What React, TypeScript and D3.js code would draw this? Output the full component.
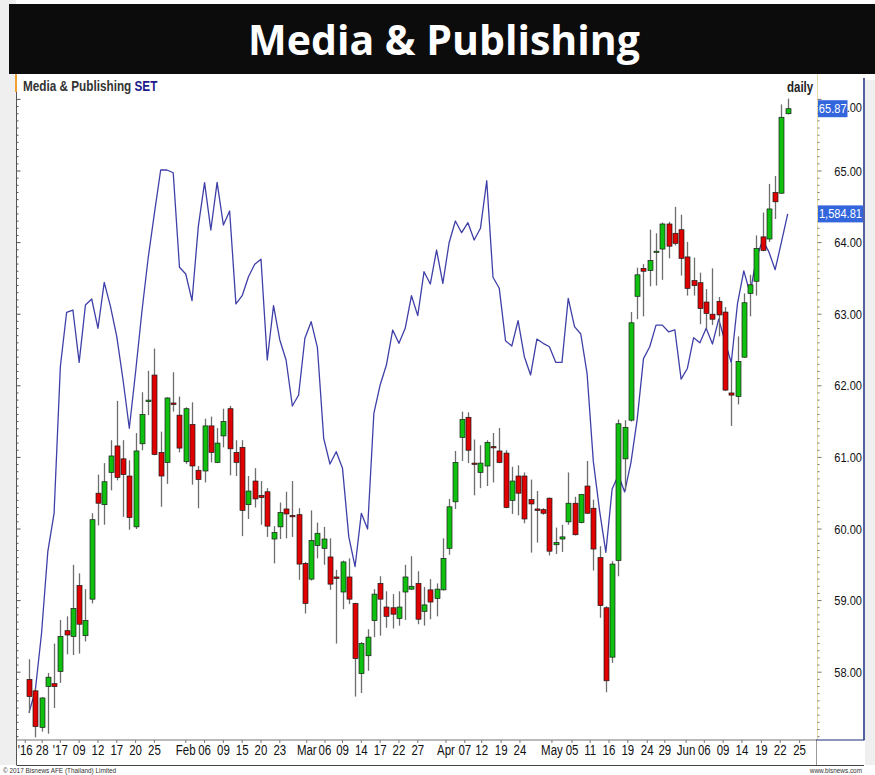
import React from 'react';
import * as d3 from 'd3';

const open = [57.90,57.74,57.23,57.80,57.84,58.01,58.58,58.50,59.21,58.51,
59.02,60.50,60.34,60.79,61.16,60.98,60.74,60.03,61.19,61.78,
62.15,61.07,60.93,61.76,61.59,60.94,61.46,60.82,60.81,61.44,
60.93,61.30,61.68,61.07,61.14,60.34,60.67,60.47,60.52,59.86,
60.03,60.28,60.19,60.20,59.52,59.30,59.77,59.73,59.61,59.33,
59.12,59.33,58.96,57.98,58.23,58.72,59.24,58.91,58.90,58.75,
59.12,59.16,59.24,58.85,59.15,59.03,59.15,59.73,60.38,61.28,
61.56,60.92,60.79,60.88,61.15,61.09,61.06,60.40,60.74,60.74,
60.41,60.28,60.27,60.43,59.78,59.86,60.10,60.36,60.09,60.60,
60.29,59.60,58.90,58.21,59.56,60.98,61.52,63.25,63.64,63.61,
63.87,63.91,64.26,64.13,64.18,63.80,63.47,63.44,63.17,63.00,
63.18,63.03,61.90,61.85,62.40,63.29,63.46,64.08,64.05,64.70,
64.69,65.80];

const high = [58.18,57.78,57.65,57.99,58.40,58.73,58.78,59.50,59.38,59.16,
60.22,60.76,60.92,61.24,61.79,61.24,60.96,61.34,61.91,62.21,
62.52,61.36,61.84,62.19,61.85,61.70,61.77,60.88,61.54,61.57,
61.41,61.68,61.72,61.24,61.24,60.74,60.85,60.67,60.57,60.04,
60.37,60.52,60.67,60.29,59.54,60.26,60.09,60.03,59.87,59.43,
59.56,59.59,58.97,58.42,58.60,59.16,59.34,59.13,59.09,59.13,
59.50,59.62,59.41,59.19,59.30,59.24,59.87,60.42,61.09,61.64,
61.63,61.25,61.17,61.24,61.34,61.41,61.10,60.87,60.89,60.79,
60.69,60.53,60.29,60.44,60.02,60.06,60.79,60.45,60.49,60.95,
60.41,59.76,58.92,59.55,61.53,61.52,63.03,63.65,63.70,64.18,
64.13,64.28,64.29,64.50,64.39,64.01,63.79,63.58,63.35,63.64,
63.24,63.10,62.32,62.69,63.29,63.55,64.10,64.42,64.82,64.93,
65.93,66.01];

const low = [57.43,57.09,57.17,57.14,57.50,57.85,58.25,58.24,58.26,58.43,
58.96,60.05,60.06,60.54,60.68,60.17,59.99,60.00,61.10,61.59,
61.03,60.31,60.63,61.64,61.07,60.91,60.62,60.29,60.65,60.93,
60.92,61.14,60.75,60.74,59.90,60.14,60.30,60.06,59.89,59.52,
59.86,59.87,59.89,59.29,58.82,59.28,59.59,59.50,59.15,58.40,
58.88,58.95,57.66,57.71,58.02,58.49,58.51,58.62,58.61,58.65,
58.73,59.15,58.67,58.65,58.74,58.78,59.14,59.64,60.28,60.95,
60.92,60.47,60.57,60.60,60.65,60.92,60.29,60.21,60.19,60.08,
59.67,59.81,60.20,59.63,59.65,59.68,60.06,59.91,60.08,60.21,
59.42,58.76,57.72,58.13,59.34,60.53,61.50,62.93,62.97,63.39,
63.40,63.48,63.78,63.96,63.54,63.26,63.26,62.86,62.80,62.85,
62.69,61.93,61.44,61.74,62.39,62.97,63.26,63.88,64.01,64.33,
64.68,65.79];

const close = [57.66,57.24,57.64,57.93,57.80,58.50,58.52,58.89,58.67,58.72,
60.13,60.36,60.66,61.02,60.72,60.76,60.16,61.09,61.60,61.80,
61.04,60.74,61.83,61.74,61.13,61.68,60.88,60.69,61.44,61.07,
61.20,61.50,61.12,60.93,60.26,60.53,60.42,60.44,60.04,59.95,
60.23,60.21,60.17,59.51,58.96,59.84,59.94,59.86,59.23,59.31,
59.54,59.02,58.19,58.40,58.49,59.09,59.02,58.78,58.81,58.91,
59.33,59.20,58.74,58.94,58.98,59.16,59.59,60.31,60.93,61.53,
61.10,60.91,60.92,61.21,61.14,60.93,60.30,60.67,60.50,60.14,
60.35,60.26,60.22,59.69,59.81,59.89,60.36,59.92,60.48,60.22,
59.72,58.93,57.88,59.51,61.47,61.42,62.88,63.55,63.60,63.75,
63.88,64.26,63.95,63.99,63.78,63.36,63.40,63.08,63.01,62.93,
62.99,61.94,61.87,62.34,63.16,63.41,63.92,63.89,64.47,64.57,
65.75,65.87];

const setIndex = [1505.57,1509.06,1518.18,1531.14,1537.24,1560.53,1569.18,1569.54,1561.23,1570.34,
1571.29,1566.64,1573.94,1570.07,1565.30,1558.42,1550.75,1559.69,1569.22,1577.76,
1584.90,1591.78,1591.78,1591.35,1576.33,1575.26,1571.02,1582.78,1589.77,1582.25,
1589.83,1583.05,1585.27,1570.50,1571.81,1574.83,1576.80,1577.60,1561.60,1570.23,
1564.78,1561.60,1554.29,1556.04,1565.05,1567.68,1563.55,1549.16,1545.08,1547.03,
1544.39,1533.53,1528.76,1537.24,1534.75,1553.13,1557.63,1560.80,1566.36,1564.25,
1566.64,1571.81,1568.64,1575.63,1573.67,1579.07,1573.78,1580.23,1583.68,1581.82,
1583.41,1580.66,1582.52,1590.08,1574.74,1572.99,1564.66,1563.82,1567.84,1562.12,
1559.22,1564.93,1564.25,1563.71,1561.23,1561.23,1571.40,1566.89,1565.73,1559.49,
1545.49,1537.64,1531.05,1541.10,1543.28,1540.64,1545.30,1552.21,1561.81,1563.70,
1567.14,1567.14,1566.08,1566.40,1558.55,1560.25,1565.14,1564.33,1566.65,1564.14,
1568.10,1564.51,1561.19,1570.61,1575.75,1572.18,1577.69,1580.65,1578.77,1575.94,
1580.33,1584.81];

const xLabels = ["'16","28","'17","09","12","17","20","25","Feb","06","09","15","20","23",
  "Mar","06","09","14","17","22","27","Apr","07","12","19","24","May","05","11","16","19",
  "24","29","Jun","06","09","14","19","22","25"];
const xLabelIdx = [-0.6,2.1,5,8,11,14,17,20,25,28,31,34,37,40,44.3,47.2,50,53,56,59,62,
  66.5,69.5,72.2,75.3,78.3,83.4,86.6,89.5,92.5,95.5,98.6,101.4,104.8,107.7,110.7,113.7,116.8,119.8,122.9];

const priceTicks = [58, 59, 60, 61, 62, 63, 64, 65, 66];
const lastPrice = 65.87;
const lastSet = 1584.81;

const FONT = "'Liberation Sans', Arial, sans-serif";

function NT(props: any) {
  const { x, y, anchor = 'start', size = 13, fill = '#111', weight = 'normal', sx = 0.82, children } = props;
  return (
    <text transform={`translate(${x},${y}) scale(${sx},1)`} textAnchor={anchor}
      fontSize={size} fontFamily={FONT} fill={fill} fontWeight={weight}>{children}</text>
  );
}

export default function App() {
  const n = close.length;
  const x = d3.scaleLinear().domain([0, n - 1]).range([29, 787.7]);
  const y = d3.scaleLinear().domain([58, 66]).range([672.2, 99.4]);
  const ySet = d3.scaleLinear().domain([1512, 1603]).range([672.2, 99.4]);
  const linePath = d3.line<number>().x((_, i) => x(i)).y(d => ySet(d))(setIndex) || '';

  const plotL = 16.5, plotR = 816.5, plotT = 74, plotB = 740;
  const minor = d3.range(570, 661).map(v => v / 10).filter(v => y(v) > plotT + 2 && y(v) < plotB - 1);
  const bw = 5;
  const boxRight = 847.5;
  const topTick = priceTicks[priceTicks.length - 1];

  return (
    <div style={{ position: 'fixed', left: 0, top: 0 }}>
      <svg width={875} height={775} style={{ display: 'block' }}>
        <rect x={0} y={0} width={875} height={775} fill="#ffffff" />
        <rect x={0} y={0} width={16} height={765} fill="#efefef" />
        <rect x={865} y={80} width={10} height={685} fill="#efefef" />
        <rect x={9} y={4} width={866} height={70} fill="#0c0c0c" />
        <text x={444} y={55} textAnchor="middle" fontFamily="'Open Sans', sans-serif" fontWeight={700}
          fontSize={41} fill="#ffffff">Media &amp; Publishing</text>

        {/* frame */}
        <line x1={plotL} x2={plotL} y1={plotT} y2={765} stroke="#555" strokeWidth={1} />
        <line x1={plotL - 0.5} x2={plotL - 0.5} y1={74} y2={92} stroke="#f0a030" strokeWidth={2} />
        <line x1={plotL} x2={plotR} y1={plotB} y2={plotB} stroke="#777" strokeWidth={1} />
        <line x1={plotL} x2={864} y1={765.5} y2={765.5} stroke="#444" strokeWidth={1} />
        <line x1={plotR} x2={plotR} y1={plotB} y2={765} stroke="#999" strokeWidth={1} />
        <line x1={817.5} x2={817.5} y1={plotT} y2={plotB} stroke="#eadca8" strokeWidth={1} />
        <line x1={864} x2={864} y1={plotT + 4} y2={plotB} stroke="#1c2c7c" strokeWidth={1.5} />
        <line x1={816} x2={864.5} y1={plotB} y2={plotB} stroke="#1c2c7c" strokeWidth={1.2} />

        {/* minor ticks left and right */}
        {minor.map((v, i) => {
          const major = Math.abs(v - Math.round(v)) < 1e-6;
          return (
            <g key={'m' + i}>
              <line x1={plotL} x2={plotL + (major ? 4 : 2)} y1={y(v)} y2={y(v)} stroke="#555" strokeWidth={1} />
              <line x1={817.5} x2={817.5 + (major ? 4 : 2)} y1={y(v)} y2={y(v)} stroke="#777" strokeWidth={1} />
            </g>
          );
        })}

        {/* header texts */}
        <text transform="translate(23,91) scale(0.84,1)" fontFamily={FONT} fontWeight="bold" fontSize={14} fill="#333">
          Media &amp; Publishing <tspan fill="#1a1a8c">SET</tspan>
        </text>
        <NT x={787} y={92} size={14} weight="bold" fill="#222">daily</NT>

        {/* SET line */}
        <path d={linePath} fill="none" stroke="#2a2a9e" strokeWidth={1.3} strokeOpacity={0.9} strokeLinejoin="round" />

        {/* candles */}
        {close.map((c, i) => {
          const o = open[i];
          const up = c >= o;
          const top = y(Math.max(o, c));
          const bot = y(Math.min(o, c));
          const cx = Math.round(x(i)) + 0.5;
          return (
            <g key={'c' + i}>
              <line x1={cx} x2={cx} y1={y(high[i])} y2={y(low[i])} stroke="#6e6e6e" strokeWidth={1.3} />
              <rect x={cx - bw / 2} y={top} width={bw} height={Math.max(1.2, bot - top)}
                fill={up ? '#10c010' : '#e00000'} stroke="#1a1a1a" strokeWidth={0.7} />
            </g>
          );
        })}

        {/* price tick labels */}
        {priceTicks.filter(v => v < topTick).map(v => (
          <NT key={'t' + v} x={862} y={y(v) + 4.5} anchor="end" size={13.5} fill="#111">{v.toFixed(2)}</NT>
        ))}
        {/* top tick label: only its tail shows beside the last-price box */}
        <NT x={862} y={111.5} anchor="end" size={13.5} fill="#111">{topTick.toFixed(2).slice(2)}</NT>

        {/* last value boxes */}
        <rect x={818} y={y(lastPrice) - 8.5} width={boxRight - 818} height={17} fill="#3366dd" />
        <NT x={832.7} y={y(lastPrice) + 4.5} anchor="middle" size={13.5} fill="#ffffff">{lastPrice.toFixed(2)}</NT>
        <rect x={818} y={ySet(lastSet) - 8.5} width={45} height={17} fill="#3366dd" />
        <NT x={862} y={ySet(lastSet) + 4.5} anchor="end" size={13.5} fill="#ffffff">{d3.format(',.2f')(lastSet)}</NT>

        {/* x labels */}
        {xLabels.map((l, i) => (
          <g key={'x' + i}>
            <line x1={x(xLabelIdx[i])} x2={x(xLabelIdx[i])} y1={plotB} y2={plotB + 3} stroke="#777" />
            <NT x={x(xLabelIdx[i])} y={755} anchor="middle" size={14} fill="#111">{l}</NT>
          </g>
        ))}

        <NT x={3} y={773} size={8} sx={0.8} fill="#333">© 2017 Bisnews AFE (Thailand) Limited</NT>
        <NT x={862} y={773} anchor="end" size={8} sx={0.8} fill="#333">www.bisnews.com</NT>
      </svg>
    </div>
  );
}
